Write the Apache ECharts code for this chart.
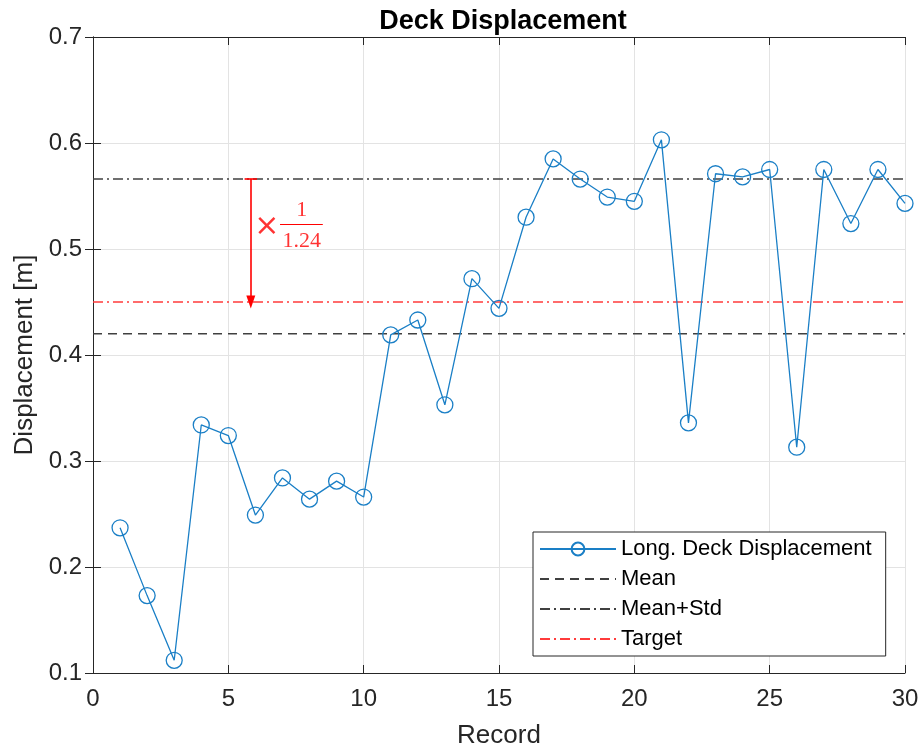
<!DOCTYPE html>
<html>
<head>
<meta charset="utf-8">
<script src="https://cdn.jsdelivr.net/npm/echarts@6/dist/echarts.min.js"></script>
<style>
html,body{margin:0;padding:0;background:#fff;}
#chart{width:922px;height:754px;}
</style>
</head>
<body>
<div id="chart"></div>
<script>
// ---- data ----
const records = [1,2,3,4,5,6,7,8,9,10,11,12,13,14,15,16,17,18,19,20,21,22,23,24,25,26,27,28,29,30];
const displacement = [0.237,0.173,0.112,0.334,0.324,0.249,0.284,0.264,0.281,0.266,
                      0.419,0.433,0.353,0.472,0.444,0.530,0.585,0.566,0.549,0.545,
                      0.603,0.336,0.571,0.568,0.575,0.313,0.575,0.524,0.575,0.543];
const meanValue = 0.420;
const meanStdValue = 0.566;
const targetValue = 0.450;
const xRange = [0, 30];
const yRange = [0.1, 0.7];
const seriesNames = ['Long. Deck Displacement', 'Mean', 'Mean+Std', 'Target'];
const factorText = ['×', '1', '1.24'];
const arrowX = 5.83;

const chart = echarts.init(document.getElementById('chart'));
const axisColor = '#262626';
const font = 'Liberation Sans, Arial, Helvetica, sans-serif';
const blue = '#1a7fc6';

function hline(v) { return [[xRange[0], v], [xRange[1], v]]; }

const option = {
  animation: false,
  backgroundColor: '#fff',
  title: {
    text: 'Deck Displacement',
    left: 498, textAlign: 'center', top: 3,
    textStyle: { fontFamily: font, fontWeight: 'bold', fontSize: 27, color: '#000' }
  },
  grid: { left: 93, right: 17, top: 37, bottom: 80, show: false },
  legend: {
    orient: 'vertical',
    left: 533, top: 532,
    data: [
      { name: seriesNames[0] },
      { name: seriesNames[1], itemStyle: { opacity: 0 } },
      { name: seriesNames[2], itemStyle: { opacity: 0 } },
      { name: seriesNames[3], itemStyle: { opacity: 0 } }
    ],
    backgroundColor: '#fff',
    borderColor: axisColor, borderWidth: 1, borderRadius: 0,
    padding: [6, 14, 6, 6],
    itemWidth: 76, itemHeight: 16, itemGap: 8,
    textStyle: { fontFamily: font, fontSize: 22, color: '#000' },
    lineStyle: { type: 'inherit' }
  },
  xAxis: [{
    type: 'value', min: xRange[0], max: xRange[1], interval: 5,
    name: 'Record', nameLocation: 'middle', nameGap: 50,
    nameTextStyle: { fontFamily: font, fontSize: 26, color: '#262626' },
    axisLine: { show: true, lineStyle: { color: axisColor, width: 1 } },
    axisTick: { show: true, inside: true, length: 8, lineStyle: { color: axisColor } },
    axisLabel: { fontFamily: font, fontSize: 24, color: '#262626', margin: 14 },
    splitLine: { show: true, lineStyle: { color: '#e3e3e3', width: 1 } }
  }, {
    type: 'value', position: 'top', min: xRange[0], max: xRange[1], interval: 5,
    axisLine: { show: true, lineStyle: { color: axisColor, width: 1 } },
    axisTick: { show: true, inside: true, length: 8, lineStyle: { color: axisColor } },
    axisLabel: { show: false }, splitLine: { show: false }
  }],
  yAxis: [{
    type: 'value', min: yRange[0], max: yRange[1], interval: 0.1,
    name: 'Displacement [m]', nameLocation: 'middle', nameGap: 55,
    nameTextStyle: { fontFamily: font, fontSize: 26, color: '#262626' },
    axisLine: { show: true, lineStyle: { color: axisColor, width: 1 } },
    axisTick: { show: true, inside: true, length: 8, lineStyle: { color: axisColor } },
    axisLabel: { fontFamily: font, fontSize: 24, color: '#262626', margin: 11,
                 formatter: v => v.toFixed(1) },
    splitLine: { show: true, lineStyle: { color: '#e3e3e3', width: 1 } }
  }, {
    type: 'value', position: 'right', min: yRange[0], max: yRange[1], interval: 0.1,
    axisLine: { show: true, lineStyle: { color: axisColor, width: 1 } },
    axisTick: { show: true, inside: true, length: 8, lineStyle: { color: axisColor } },
    axisLabel: { show: false }, splitLine: { show: false }
  }],
  series: [
    {
      name: seriesNames[1], type: 'line', data: hline(meanValue),
      symbol: 'none', silent: true,
      lineStyle: { color: '#404040', width: 1.6, type: [9, 6] },
      itemStyle: { color: '#404040' }, z: 2
    },
    {
      name: seriesNames[2], type: 'line', data: hline(meanStdValue),
      symbol: 'none', silent: true,
      lineStyle: { color: '#404040', width: 1.6, type: [10, 4, 2, 4] },
      itemStyle: { color: '#404040' }, z: 2
    },
    {
      name: seriesNames[3], type: 'line', data: hline(targetValue),
      symbol: 'none', silent: true,
      lineStyle: { color: '#ff3b3b', width: 1.6, type: [10, 4, 2, 4] },
      itemStyle: { color: '#ff3b3b' }, z: 2,
      markLine: {
        silent: true, animation: false,
        label: { show: false },
        lineStyle: { color: '#ff0000', width: 1.6, type: 'solid' },
        data: [
          [{ coord: [arrowX, meanStdValue], symbol: 'none' },
           { coord: [arrowX, targetValue], symbol: 'triangle', symbolSize: [9, 13], symbolRotate: 180 }],
          [{ coord: [arrowX - 0.23, meanStdValue], symbol: 'none' },
           { coord: [arrowX + 0.23, meanStdValue], symbol: 'none' }],
          [{ coord: [6.91, 0.523], symbol: 'none', lineStyle: { width: 1.2 } },
           { coord: [8.49, 0.523], symbol: 'none' }]
        ]
      }
    },
    {
      name: seriesNames[0], type: 'line',
      data: records.map((r, i) => [r, displacement[i]]),
      symbol: 'circle', symbolSize: 16,
      lineStyle: { color: blue, width: 1.3 },
      itemStyle: { color: 'rgba(255,255,255,0)', borderColor: blue, borderWidth: 1.3 },
      z: 5
    },
    {
      name: 'annot', type: 'scatter', symbolSize: 0, silent: true,
      data: [[6.42, 0.521, factorText[0]], [7.71, 0.537, factorText[1]], [7.71, 0.507, factorText[2]]],
      label: {
        show: true, position: 'inside',
        formatter: p => p.value[2],
        fontFamily: 'Liberation Serif, DejaVu Serif, serif',
        fontSize: 22, color: '#ff0000',
        rich: {}
      },
      z: 6
    }
  ]
};
// make the multiplication sign larger like the reference
option.series[4].data[0] = { value: [6.42, 0.521, factorText[0]], label: { fontSize: 30, fontFamily: 'DejaVu Sans, sans-serif' } };
chart.setOption(option);
</script>
</body>
</html>
